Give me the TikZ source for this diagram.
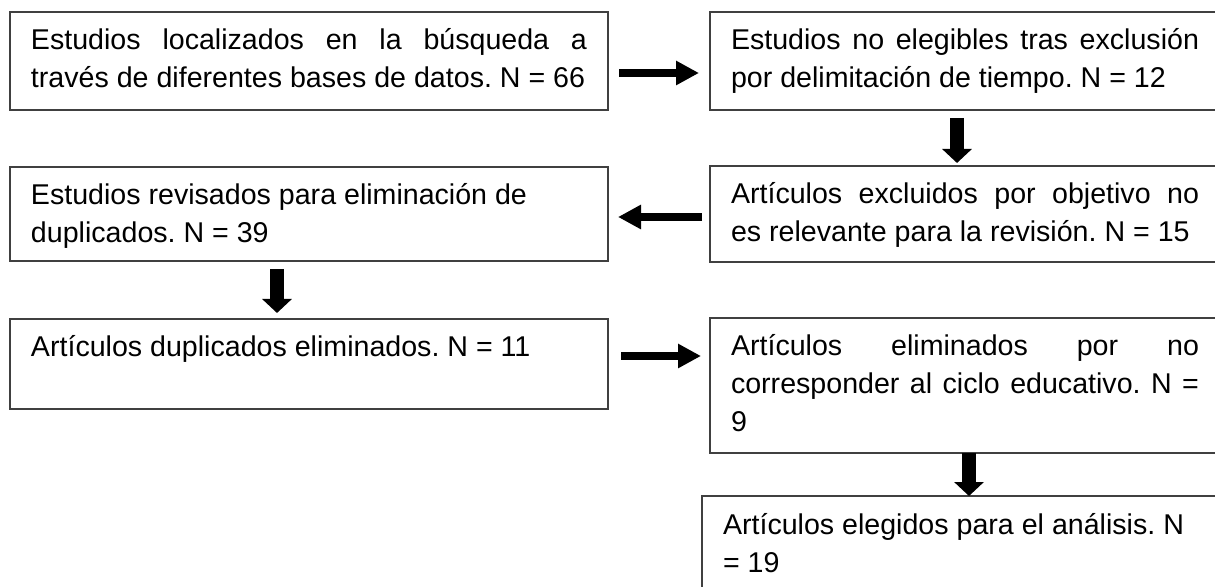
\documentclass[tikz,border=0pt]{standalone}
\usepackage{fontspec}
\setmainfont{Liberation Sans}
\usetikzlibrary{arrows.meta}
\frenchspacing
\definecolor{boxgray}{HTML}{404040}
\newcommand\lineJ[1]{\makebox[\linewidth][s]{#1}\par}
\newcommand\lineL[1]{\makebox[\linewidth][l]{#1}\par}
\newcommand\boxtext[3]{\parbox[t][#1][t]{#2}{\fontsize{14.3pt}{19pt}\selectfont\frenchspacing\rule{0pt}{19pt}#3}}
\begin{document}
\begin{tikzpicture}[x=0.5pt,y=-0.5pt,
  fbox/.style={draw=boxgray, line width=0.6pt, inner xsep=10.5pt, inner ysep=0pt, outer sep=0pt, anchor=north west},
  harrow/.style={line width=4pt, -{Triangle[length=11.5pt,width=11.5pt]}},
  varrow/.style={line width=7pt, -{Triangle[length=7pt,width=14.5pt]}}]
\useasboundingbox (0,0) rectangle (1215,587);
\node[fbox] (b1) at (10,12) {\boxtext{49pt}{278pt}{%
  \lineJ{Estudios localizados en la búsqueda a}%
  \lineL{través de diferentes bases de datos. N = 66}}};
\node[fbox] (b2) at (710,12) {\boxtext{49pt}{234pt}{%
  \lineJ{Estudios no elegibles tras exclusión}%
  \lineL{por delimitación de tiempo. N = 12}}};
\node[fbox] (b3) at (710,166) {\boxtext{48pt}{234pt}{%
  \lineJ{Artículos excluidos por objetivo no}%
  \lineL{es relevante para la revisión. N = 15}}};
\node[fbox] (b4) at (10,167) {\boxtext{47pt}{278pt}{%
  \lineL{Estudios revisados para eliminación de}%
  \lineL{duplicados. N = 39}}};
\node[fbox] (b5) at (10,319) {\boxtext{45pt}{278pt}{%
  \lineL{Artículos duplicados eliminados. N = 11}}};
\node[fbox] (b6) at (710,318) {\boxtext{67.5pt}{234pt}{%
  \lineJ{Artículos eliminados por no}%
  \lineJ{corresponder al ciclo educativo. N =}%
  \lineL{9}}};
\node[fbox] (b7) at (702,496) {\boxtext{52pt}{240.5pt}{%
  \lineL{Artículos elegidos para el análisis. N}%
  \lineL{= 19}}};
% horizontal arrows
\draw[harrow, shorten <=5.5pt, shorten >=5.5pt] ([yshift=-6pt]b1.east) -- ([yshift=-6pt]b2.west);
\draw[harrow, shorten <=4pt, shorten >=5pt] ([yshift=-1.5pt]b3.west) -- ([yshift=-1.5pt]b4.east);
\coordinate (a3s) at ([yshift=4pt]b5.east);
\draw[harrow, shorten <=6.5pt, shorten >=4.5pt] (a3s) -- (a3s -| b6.west);
% vertical arrows
\coordinate (v1s) at ([xshift=-4pt]b2.south);
\draw[varrow, shorten <=4pt, shorten >=1.5pt] (v1s) -- (v1s |- b3.north);
\coordinate (v2s) at ([xshift=-16pt]b4.south);
\draw[varrow, shorten <=4pt, shorten >=3pt] (v2s) -- (v2s |- b5.north);
\coordinate (v3s) at ([xshift=2pt]b6.south);
\draw[varrow] (v3s) -- (v3s |- b7.north);
\end{tikzpicture}
\end{document}
